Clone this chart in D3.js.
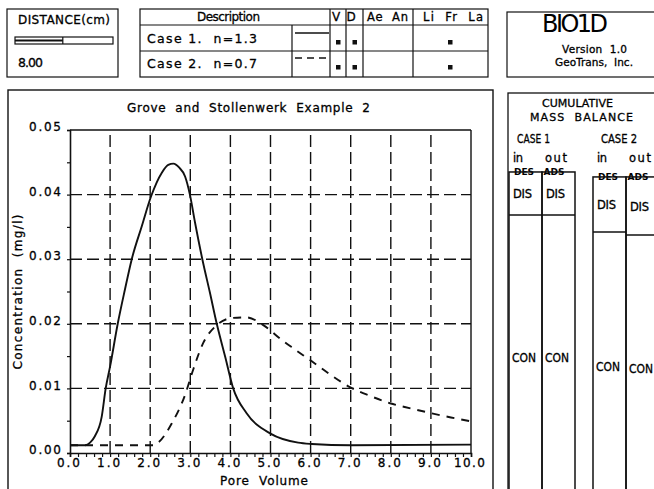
<!DOCTYPE html>
<html>
<head>
<meta charset="utf-8">
<script src="https://cdn.jsdelivr.net/npm/d3@7"></script>
<style>
  body { margin: 0; background: #fff; }
  svg text { font-family: "DejaVu Sans", sans-serif; fill: #000; white-space: pre; }
  .ink { stroke: #000; stroke-width: 0.3; }
</style>
</head>
<body>
<div id="graph"></div>
<script>
// Case 1 (n=1.3), solid line : [pore volume, concentration mg/l]
var case1 = [
  [0.0, 0.0012], [0.38, 0.0012], [0.5, 0.0016], [0.62, 0.0026], [0.79, 0.0056],
  [0.89, 0.0100], [1.0, 0.0134], [1.19, 0.0200], [1.37, 0.0253], [1.54, 0.0300],
  [1.79, 0.0351], [2.02, 0.0397], [2.29, 0.0434], [2.45, 0.0446], [2.58, 0.0448],
  [2.72, 0.0442], [2.87, 0.0428], [2.99, 0.0400], [3.12, 0.0356], [3.30, 0.0300],
  [3.49, 0.0248], [3.66, 0.0200], [3.87, 0.0149], [4.07, 0.0100], [4.40, 0.0062],
  [5.0, 0.0030], [5.69, 0.0016], [6.03, 0.0014], [7.0, 0.0012], [10.0, 0.0013]
];

// Case 2 (n=0.7), dashed line
var case2 = [
  [0.0, 0.0012], [2.1, 0.0012], [2.2, 0.0016], [2.54, 0.0046], [2.87, 0.0090],
  [3.05, 0.0125], [3.32, 0.0170], [3.66, 0.0198], [4.05, 0.0209], [4.4, 0.0210],
  [4.82, 0.0198], [5.28, 0.0175], [5.57, 0.0162], [6.03, 0.0142], [6.5, 0.0121],
  [6.98, 0.0102], [7.5, 0.0088], [7.98, 0.0077], [8.5, 0.0069], [8.98, 0.0062],
  [9.5, 0.0055], [10.0, 0.0049]
];

var xTicks = [0, 1, 2, 3, 4, 5, 6, 7, 8, 9, 10];
var yTicks = [0, 0.01, 0.02, 0.03, 0.04, 0.05];

// legend table
var caseNames = ["Case 1.  n=1.3", "Case 2.  n=0.7"];
var caseDash = ["none", "7,5"];

// distance slider
var distance = 8.00;
var distanceMax = 16.4;

// mass balance bars (fraction of column height): top of DIS, end of DIS
var mbCases = ["CASE 1", "CASE 2"];
var mbStart = [[0.006, 0.006], [0.021, 0.021]];
var mbDisEnd = [[0.136, 0.136], [0.188, 0.197]];

var W = 654, H = 489;
var svg = d3.select("#graph").append("svg")
    .attr("width", W).attr("height", H);

svg.append("rect").attr("width", W).attr("height", H).attr("fill", "#fff");

var ink = "#111";

// small helper for the plotter-style labels
function txt(x, y, s, size, len, anchor) {
  var t = svg.append("text").attr("class", "ink")
     .attr("x", x).attr("y", y).attr("font-size", size)
     .attr("text-anchor", anchor || "start").text(s);
  if (len) t.attr("textLength", len);
  return t;
}
function box(x, y, w, h, sw) {
  return svg.append("rect").attr("x", x).attr("y", y).attr("width", w).attr("height", h)
     .attr("fill", "none").attr("stroke", ink).attr("stroke-width", sw || 1.2);
}
function seg(x1, y1, x2, y2, sw, dash) {
  return svg.append("line").attr("x1", x1).attr("y1", y1).attr("x2", x2).attr("y2", y2)
     .attr("stroke", ink).attr("stroke-width", sw || 1.2).attr("stroke-dasharray", dash || null);
}

// ---------- top boxes ----------
// distance box
box(7, 9, 111, 68);
txt(18, 24, "DISTANCE(cm)", 12, 92);
var dx = d3.scaleLinear().domain([0, distanceMax]).range([15, 113]);
box(dx(0), 37, dx(distanceMax) - dx(0), 7);
seg(dx(0), 40.5, dx(distance), 40.5, 2);
seg(dx(distance), 37, dx(distance), 44);
txt(18, 67, distance.toFixed(2), 12.5, 25);

// description table
var cols = [292, 330, 346, 363, 413];
box(140, 9, 348, 68);
seg(140, 25, 488, 25);
seg(140, 51, 488, 51);
cols.forEach(function (c, i) { seg(c, i === 0 ? 25 : 9, c, 77); });
txt(228.5, 21, "Description", 12, 63, "middle");
txt(336, 21, "V", 12, null, "middle");
txt(351, 21, "D", 12, null, "middle");
txt(387.5, 21, "Ae  An", 11.5, 41, "middle");
txt(453, 21, "Li  Fr  La", 11.5, 60, "middle");
caseNames.forEach(function (nm, i) {
  var yb = i === 0 ? 43 : 68;
  txt(147, yb, nm, 12.5, 110);
  seg(295, yb - 10, 329, yb - 10, 1.3, caseDash[i]);
  [338, 354.5, 450].forEach(function (cx) {
    svg.append("rect").attr("x", cx - 2).attr("y", yb - 3).attr("width", 4.5).attr("height", 4.5).attr("fill", ink);
  });
});

// BIO1D box
box(507, 12, 160, 65);
svg.append("text").attr("x", 575).attr("y", 32).attr("text-anchor", "middle")
   .attr("font-size", 24).attr("textLength", 66).text("BIO1D");
txt(594.5, 53, "Version  1.0", 10.5, 65, "middle");
txt(594, 66, "GeoTrans,  Inc.", 10.5, 78, "middle");

// ---------- main chart panel ----------
box(8, 90, 485, 420, 1.4);
txt(248.5, 112, "Grove  and  Stollenwerk  Example  2", 12, 243, "middle");

var x = d3.scaleLinear().domain([0, 10]).range([70, 471]);
var y = d3.scaleLinear().domain([0, 0.05]).range([453, 130]);

var plot = svg.append("g");

// grid
plot.selectAll(".vg").data(xTicks.slice(1, -1)).enter().append("line")
    .attr("x1", function (d) { return x(d); }).attr("x2", function (d) { return x(d); })
    .attr("y1", y(0)).attr("y2", y(0.05))
    .attr("stroke", ink).attr("stroke-width", 1.4).attr("stroke-dasharray", "12,5");
plot.selectAll(".hg").data(yTicks.slice(1, -1)).enter().append("line")
    .attr("x1", x(0)).attr("x2", x(10))
    .attr("y1", function (d) { return y(d); }).attr("y2", function (d) { return y(d); })
    .attr("stroke", ink).attr("stroke-width", 1.4).attr("stroke-dasharray", "12,5");

// frame
plot.append("line").attr("x1", x(0)).attr("x2", x(10)).attr("y1", y(0.05)).attr("y2", y(0.05))
    .attr("stroke", ink).attr("stroke-width", 1.4);
plot.append("line").attr("x1", x(10)).attr("x2", x(10)).attr("y1", y(0)).attr("y2", y(0.05))
    .attr("stroke", ink).attr("stroke-width", 1.4);

// axes
var xAxis = plot.append("g").attr("transform", "translate(0," + y(0) + ")")
    .call(d3.axisBottom(x).tickValues(d3.range(0, 10.01, 0.2)).tickSize(4).tickFormat(""));
var xLab = plot.append("g").attr("transform", "translate(-2," + y(0) + ")")
    .call(d3.axisBottom(x).tickValues(xTicks).tickSize(0).tickPadding(5).tickFormat(d3.format(".1f")));
var yAxis = plot.append("g").attr("transform", "translate(" + x(0) + ",0)")
    .call(d3.axisLeft(y).tickValues(d3.range(0, 0.0501, 0.005)).tickSize(3).tickFormat(""));
var yLab = plot.append("g").attr("transform", "translate(" + x(0) + ",0)")
    .call(d3.axisLeft(y).tickValues(yTicks).tickSize(0).tickPadding(9).tickFormat(d3.format(".2f")));

[xAxis, xLab, yAxis, yLab].forEach(function (g) {
  g.selectAll(".domain").attr("stroke", ink).attr("stroke-width", 1.6);
  g.selectAll(".tick line").attr("stroke", ink).attr("stroke-width", 1.2);
  g.selectAll("text").attr("class", "ink").attr("font-size", 12)
   .attr("font-family", "DejaVu Sans").attr("fill", "#000");
});
xLab.select(".domain").remove();
yLab.select(".domain").remove();
xLab.selectAll("text").attr("textLength", function (d) { return d === 10 ? 31 : 23; });
yLab.selectAll("text").attr("dy", "0.05em").attr("textLength", 32);

txt(264, 485, "Pore  Volume", 12, 88, "middle");
svg.append("text").attr("class", "ink").attr("transform", "translate(22,292) rotate(-90)")
   .attr("text-anchor", "middle").attr("font-size", 12).attr("textLength", 155)
   .text("Concentration  (mg/l)");

// curves
var line = d3.line()
    .x(function (d) { return x(d[0]); })
    .y(function (d) { return y(d[1]); })
    .curve(d3.curveMonotoneX);

plot.append("path").datum(case1).attr("d", line)
    .attr("fill", "none").attr("stroke", ink).attr("stroke-width", 1.9);
plot.append("path").datum(case2).attr("d", line)
    .attr("fill", "none").attr("stroke", ink).attr("stroke-width", 1.9).attr("stroke-dasharray", "8,7");

// ---------- cumulative mass balance panel ----------
box(508, 93, 160, 420, 1.3);
txt(577.5, 107, "CUMULATIVE", 11, 71, "middle").attr("lengthAdjust", "spacingAndGlyphs");
txt(581.5, 121, "MASS  BALANCE", 11, 103, "middle");

var mbY = d3.scaleLinear().domain([0, 1]).range([170, 500]);
var colW = 33;
mbCases.forEach(function (nm, i) {
  var x0 = 509 + i * 84;
  txt(x0 + 8, 143, nm, 11.5, i === 0 ? 33 : 36).attr("lengthAdjust", "spacingAndGlyphs");
  txt(x0 + 4, 162, "in", 11.5, 10);
  txt(x0 + 36, 162, "out", 11.5, 22);
  ["DES", "ADS"].forEach(function (t, j) {
    svg.append("text").attr("x", x0 + 15 + j * 30).attr("y", mbY(mbStart[i][j]) + 3)
       .attr("text-anchor", "middle").attr("font-size", 9).attr("font-weight", "bold").text(t);
  });
  [0, 1].forEach(function (j) {
    var cx = x0 + j * colW;
    var top = mbY(mbStart[i][j]), mid = mbY(mbDisEnd[i][j]);
    box(cx, top, colW, 520 - top, 1.5);
    seg(cx, mid, cx + colW, mid, 1.5);
    txt(cx + 4, (top + mid) / 2 + 5, "DIS", 11.5, 19);
    txt(cx + 3, (mid + mbY(1)) / 2 + 5, "CON", 11.5, 24).attr("lengthAdjust", "spacingAndGlyphs");
  });
});
</script>
</body>
</html>
